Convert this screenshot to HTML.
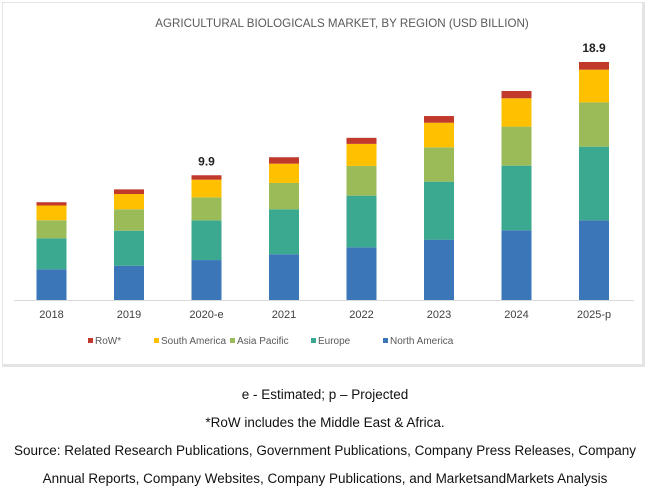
<!DOCTYPE html>
<html><head><meta charset="utf-8"><style>
body{margin:0;width:650px;height:498px;background:#fff;font-family:"Liberation Sans",sans-serif;overflow:hidden}
.note{position:absolute;left:0;width:650px;text-align:center;font-family:"Liberation Sans",sans-serif;font-size:13.5px;color:#111;white-space:nowrap}
</style></head><body>
<div style="position:absolute;left:2px;top:2px;width:643px;height:365px;border:1px solid #e4e4e4;border-right-width:3px;border-bottom-width:3px;box-sizing:border-box"></div>
<svg id="chart" width="650" height="370" style="position:absolute;left:0;top:0">
<text x="342" y="27" text-anchor="middle" font-size="11.6" fill="#595959" font-family="Liberation Sans, sans-serif">AGRICULTURAL BIOLOGICALS MARKET, BY REGION (USD BILLION)</text>
<line x1="14" y1="300.5" x2="634" y2="300.5" stroke="#d9d9d9"/>
</svg>
<div class="note" style="top:387px">e - Estimated; p – Projected</div>
<div class="note" style="top:415px">*RoW includes the Middle East &amp; Africa.</div>
<div class="note" style="top:443px">Source: Related Research Publications, Government Publications, Company Press Releases, Company</div>
<div class="note" style="top:471px">Annual Reports, Company Websites, Company Publications, and MarketsandMarkets Analysis</div>
<script>
const categories=["2018","2019","2020-e","2021","2022","2023","2024","2025-p"];
const northAmerica=[2.44,2.72,3.17,3.63,4.18,4.79,5.53,6.33];
const europe=[2.46,2.78,3.15,3.57,4.10,4.60,5.13,5.84];
const asiaPacific=[1.43,1.70,1.83,2.09,2.36,2.73,3.10,3.52];
const southAmerica=[1.17,1.21,1.40,1.53,1.75,1.95,2.25,2.59];
const row=[0.26,0.37,0.35,0.51,0.48,0.53,0.58,0.61];
const totalLabels=[null,null,"9.9",null,null,null,null,"18.9"];
const seriesNames=["North America","Europe","Asia Pacific","South America","RoW*"];
const seriesKeys=["north-america","europe","asia-pacific","south-america","row"];
const colors=["#3a76b8","#3aa98f","#9bbb59","#ffc000","#c0392b"];
const series=[northAmerica,europe,asiaPacific,southAmerica,row];
const NS="http://www.w3.org/2000/svg";
const svg=document.getElementById("chart");
const base=300,scale=12.6,x0=51.5,step=77.5,bw=30;
const xPos=i=>x0+i*step;
const yPos=v=>base-v*scale;
categories.forEach((c,i)=>{
  let cum=0;
  series.forEach((s,k)=>{
    const r=document.createElementNS(NS,"rect");
    r.setAttribute("x",xPos(i)-bw/2);
    r.setAttribute("y",yPos(cum+s[i]));
    r.setAttribute("width",bw);
    r.setAttribute("height",s[i]*scale);
    r.setAttribute("fill",colors[k]);
    
    
    svg.appendChild(r);
    cum+=s[i];
  });
  const t=document.createElementNS(NS,"text");
  t.setAttribute("x",xPos(i));t.setAttribute("y",318);
  t.setAttribute("text-anchor","middle");t.setAttribute("font-size","11");t.setAttribute("fill","#404040");
  t.textContent=c;
  
  
  svg.appendChild(t);
  if(totalLabels[i]){
    const l=document.createElementNS(NS,"text");
    l.setAttribute("x",xPos(i));l.setAttribute("y",yPos(cum)-10);
    l.setAttribute("text-anchor","middle");l.setAttribute("font-size","12");l.setAttribute("font-weight","bold");l.setAttribute("fill","#222");
    l.textContent=totalLabels[i];
    
    
    svg.appendChild(l);
  }
});
const legendX=[88,154,230,311,383];
[4,3,2,1,0].forEach((k,j)=>{
  const g=document.createElementNS(NS,"g");
  
  
  const r=document.createElementNS(NS,"rect");
  r.setAttribute("x",legendX[j]);r.setAttribute("y",338);r.setAttribute("width",5);r.setAttribute("height",5);r.setAttribute("fill",colors[k]);
  const t=document.createElementNS(NS,"text");
  t.setAttribute("x",legendX[j]+7);t.setAttribute("y",344);t.setAttribute("font-size","10");t.setAttribute("fill","#595959");
  t.textContent=seriesNames[k];
  g.appendChild(r);g.appendChild(t);svg.appendChild(g);
});
</script>
</body></html>
